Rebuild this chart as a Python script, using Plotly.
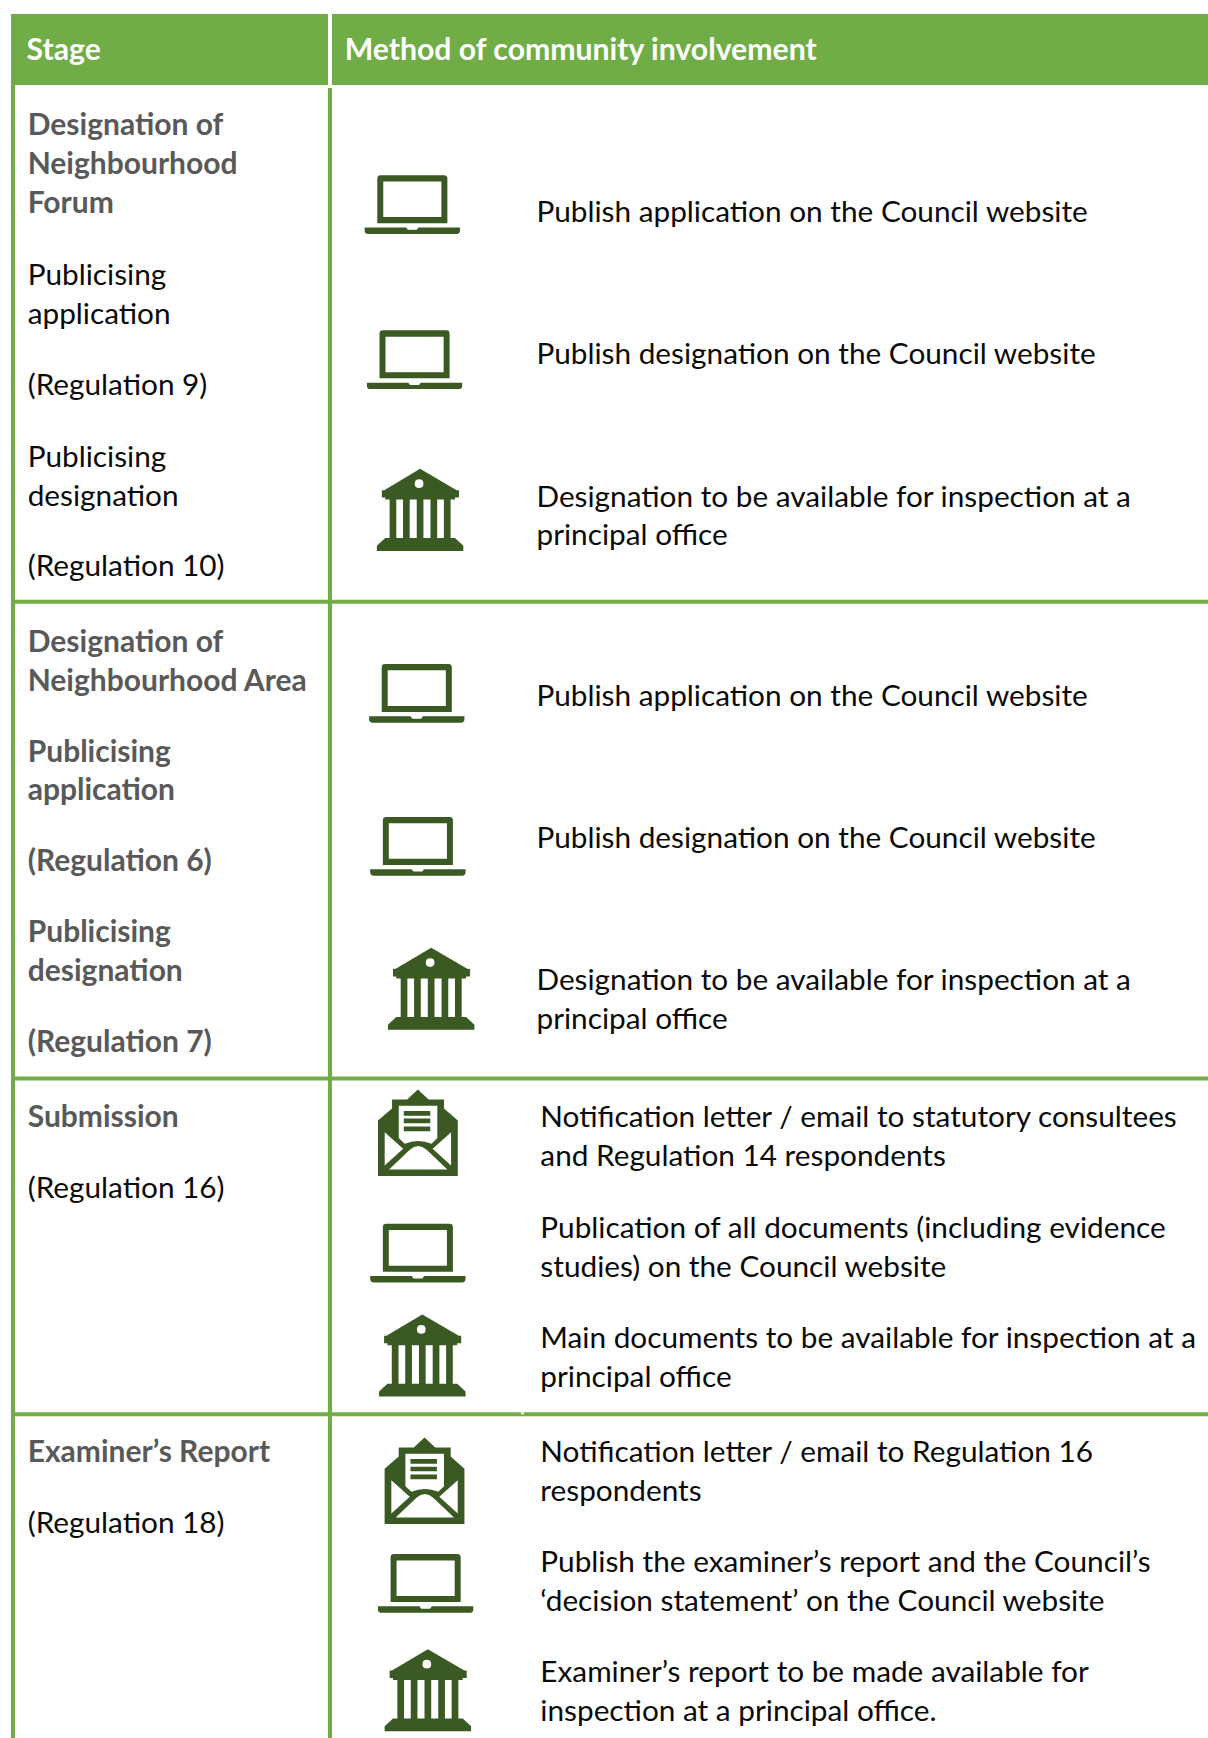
import plotly.graph_objects as go

W, H = 1208, 1738
K = H / 1568  # layout values below were read on a 1090x1568 view

GREEN = "#70AD47"
ICON = "#3B5A23"
GREY = "#595959"
BLACK = "#0a0a0a"
FONT = "Lato"
SIZE = 29.75
BOLD_SIZE = 30
HEADER_SIZE = 30.2

header_labels = ["Stage", "Method of community involvement"]
header_x = [24, 311]

bold_labels = ["Designation of", "Neighbourhood", "Forum",
               "Designation of", "Neighbourhood Area", "Publicising", "application",
               "(Regulation 6)", "Publicising", "designation", "(Regulation 7)",
               "Submission", "Examiner\u2019s Report"]
bold_y = [113, 148, 183, 579, 614, 678, 713, 777, 841, 876, 940, 1008, 1310]

stage_labels = ["Publicising", "application", "(Regulation 9)", "Publicising", "designation",
                "(Regulation 10)", "(Regulation 16)", "(Regulation 18)"]
stage_y = [248, 283, 347, 412, 447, 511, 1072, 1374]

method_labels = ["Publish application on the Council website",
                 "Publish designation on the Council website",
                 "Designation to be available for inspection at a", "principal office",
                 "Publish application on the Council website",
                 "Publish designation on the Council website",
                 "Designation to be available for inspection at a", "principal office",
                 "Notification letter / email to statutory consultees",
                 "and Regulation 14 respondents",
                 "Publication of all documents (including evidence",
                 "studies) on the Council website",
                 "Main documents to be available for inspection at a", "principal office",
                 "Notification letter / email to Regulation 16", "respondents",
                 "Publish the examiner\u2019s report and the Council\u2019s",
                 "\u2018decision statement\u2019 on the Council website",
                 "Examiner\u2019s report to be made available for",
                 "inspection at a principal office."]
method_x = [484] * 8 + [487.5] * 12
method_y = [191, 319, 448, 483, 628, 756, 884, 919, 1008, 1043, 1108, 1143, 1207, 1242,
            1310, 1345, 1409, 1444, 1508, 1544]

row_rules = [543, 973, 1276]
laptops = [(329, 158), (331, 298), (333, 599), (334, 737), (334, 1104), (341, 1402)]
banks = [(340, 423), (350, 855), (342, 1186), (347, 1488)]
envelopes = [(341, 983), (347, 1297)]

LAPTOP = ("M112 85Q112 75 122 75L313 75Q323 75 323 85L323 218L112 218Z"
          "M130 94L130 200L305 200L305 94Z"
          "M74 231L199 231L204 238L231 238L236 231L361 231L361 240Q361 250 350 250L85 250Q74 250 74 240Z")
BANK = ("M241 87L350 150L357 150L357 172L345 172L345 178L332 178L332 292L345 292L370 315L370 330L112 330"
        "L112 315L137 292L150 292L150 178L137 178L137 172L127 172L127 150L134 150Z"
        "M170 178L170 292L190 292L190 178Z M210 178L210 292L231 292L231 178Z"
        "M251 178L251 292L272 292L272 178Z M292 178L292 292L312 292L312 178Z"
        "M225 131Q225 118 238 118Q251 118 251 131Q251 144 238 144Q225 144 225 131Z")
ENVELOPE = ("M85 152L127 115L127 88L172 88L204 58L236 88L282 88L282 115L323 152L323 320L85 320Z"
            "M147 107L147 205L165 222Q205 205 245 222L262 205L262 107Z"
            "M162 123L241 123L241 137L162 137Z M162 146L241 146L241 160L162 160Z M162 170L241 170L241 184L162 184Z"
            "M105 187L160 237L105 288Z M303 187L248 237L303 288Z"
            "M118 300L180 240Q205 218 230 240L292 300Z")


def place(path, box, pos, size):
    """Scale an icon outline from its drawing box to a spot on the page."""
    x0, y0, bw, bh = box
    px, py = pos
    sx, sy = size[0] * K / bw, size[1] * K / bh
    out = []
    token = ""
    is_x = True

    def flush():
        nonlocal token, is_x
        if token:
            v = float(token)
            out.append(f"{(v - x0) * sx + px * K:.2f}" if is_x else f"{(v - y0) * sy + py * K:.2f}")
            is_x = not is_x
            token = ""

    for ch in path:
        if ch.isdigit():
            token += ch
        else:
            flush()
            if ch.isalpha():
                out.append(ch)
                is_x = True
    flush()
    s = ""
    for t in out:
        s += t if t.isalpha() else t + " "
    return s


fig = go.Figure()


def rect(x0, y0, x1, y1, color):
    fig.add_shape(type="rect", x0=x0, y0=y0, x1=x1, y1=y1, fillcolor=color, line_width=0, layer="below")


rect(11, 14, 328, 85, GREEN)
rect(332, 14, W, 85, GREEN)
rect(11, 85, 15, H, GREEN)
rect(328, 88, 332, H, GREEN)
for r in row_rules:
    rect(15, r * K - 2, W, r * K + 2, GREEN)
fig.add_shape(type="rect", x0=521, y0=1276 * K - 2, x1=524, y1=1276 * K,
              fillcolor="white", line_width=0, layer="above")

for pos in laptops:
    fig.add_shape(type="path", path=place(LAPTOP, (74, 75, 287, 175), pos, (86, 53)),
                  fillcolor=ICON, line_width=0)
for pos in banks:
    fig.add_shape(type="path", path=place(BANK, (112, 87, 258, 243), pos, (78, 74)),
                  fillcolor=ICON, line_width=0)
for pos in envelopes:
    fig.add_shape(type="path", path=place(ENVELOPE, (85, 58, 238, 262), pos, (72, 78)),
                  fillcolor=ICON, line_width=0)


def text_trace(labels, xs, ys, color, weight, size):
    fig.add_trace(go.Scatter(x=[v * K for v in xs], y=[(v + 2.4) * K for v in ys], text=labels, mode="text",
                             textposition="middle right", hoverinfo="skip", cliponaxis=False,
                             textfont=dict(family=FONT, size=size, color=color, weight=weight)))


text_trace(header_labels, header_x, [45, 45], "#ffffff", 700, HEADER_SIZE)
text_trace(bold_labels, [25] * len(bold_labels), bold_y, GREY, 700, BOLD_SIZE)
text_trace(stage_labels, [25] * len(stage_labels), stage_y, BLACK, 400, SIZE)
text_trace(method_labels, method_x, method_y, BLACK, 400, SIZE)

fig.update_layout(width=W, height=H, margin=dict(l=0, r=0, t=0, b=0), autosize=False,
                  paper_bgcolor="white", plot_bgcolor="white", showlegend=False,
                  xaxis=dict(range=[0, W], visible=False, fixedrange=True),
                  yaxis=dict(range=[H, 0], visible=False, fixedrange=True))
fig.write_html("out.html", config={"displayModeBar": False},
               default_width=f"{W}px", default_height=f"{H}px",
               post_script="document.body.style.margin='0';")
